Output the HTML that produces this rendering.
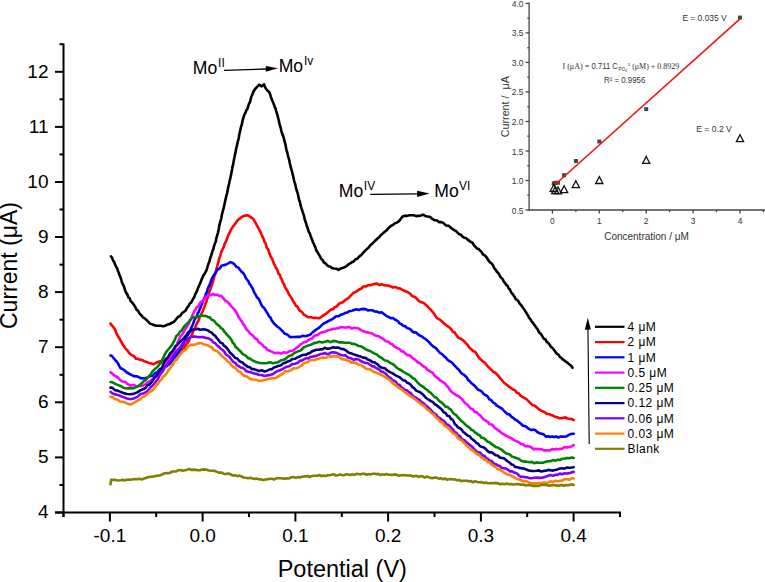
<!DOCTYPE html>
<html><head><meta charset="utf-8"><style>
html,body{margin:0;padding:0;background:#fff;}
body{width:765px;height:582px;overflow:hidden;}
svg{display:block;}
</style></head><body>
<svg width="765" height="582" viewBox="0 0 765 582">
<rect width="765" height="582" fill="#fff"/>
<g stroke="#000" stroke-width="2" fill="none" stroke-linecap="butt">
<path d="M63.5 43.4V517.0"/>
<path d="M55 512.5H621.0"/>
<path d="M55 512.5H63.5"/>
<path d="M55 457.4H63.5"/>
<path d="M55 402.3H63.5"/>
<path d="M55 347.2H63.5"/>
<path d="M55 292.1H63.5"/>
<path d="M55 237.0H63.5"/>
<path d="M55 182.0H63.5"/>
<path d="M55 126.9H63.5"/>
<path d="M55 71.8H63.5"/>
<path d="M59.5 485.0H63.5"/>
<path d="M59.5 429.9H63.5"/>
<path d="M59.5 374.8H63.5"/>
<path d="M59.5 319.7H63.5"/>
<path d="M59.5 264.6H63.5"/>
<path d="M59.5 209.5H63.5"/>
<path d="M59.5 154.4H63.5"/>
<path d="M59.5 99.3H63.5"/>
<path d="M59.5 44.2H63.5"/>
<path d="M109.9 512.5V521.5"/>
<path d="M202.6 512.5V521.5"/>
<path d="M295.4 512.5V521.5"/>
<path d="M388.1 512.5V521.5"/>
<path d="M480.9 512.5V521.5"/>
<path d="M573.6 512.5V521.5"/>
<path d="M63.5 512.5V517.0"/>
<path d="M156.2 512.5V517.0"/>
<path d="M249.0 512.5V517.0"/>
<path d="M341.8 512.5V517.0"/>
<path d="M434.5 512.5V517.0"/>
<path d="M527.2 512.5V517.0"/>
<path d="M620.0 512.5V517.0"/>
</g>
<g font-family="'Liberation Sans', sans-serif" font-size="19" fill="#000" text-anchor="end">
<text x="48.5" y="518.4">4</text>
<text x="48.5" y="463.3">5</text>
<text x="48.5" y="408.2">6</text>
<text x="48.5" y="353.1">7</text>
<text x="48.5" y="298.0">8</text>
<text x="48.5" y="242.9">9</text>
<text x="48.5" y="187.9">10</text>
<text x="48.5" y="132.8">11</text>
<text x="48.5" y="77.7">12</text>
</g>
<g font-family="'Liberation Sans', sans-serif" font-size="19" fill="#000" text-anchor="middle">
<text x="109.9" y="542.3">-0.1</text>
<text x="202.6" y="542.3">0.0</text>
<text x="295.4" y="542.3">0.1</text>
<text x="388.1" y="542.3">0.2</text>
<text x="480.9" y="542.3">0.3</text>
<text x="573.6" y="542.3">0.4</text>
</g>
<text font-family="'Liberation Sans', sans-serif" font-size="23.5" x="342.3" y="576.8" text-anchor="middle">Potential (V)</text>
<text font-family="'Liberation Sans', sans-serif" font-size="23" transform="translate(17 265.5) rotate(-90)" text-anchor="middle">Current (μA)</text>
<g fill="none" stroke-width="2.6" stroke-linejoin="round" stroke-linecap="round">
<path stroke="#000000" d="M111.0 256.3L111.6 257.0L112.2 258.1L113.1 260.6L114.1 261.8L115.2 264.7L116.2 266.8L117.2 268.5L118.0 271.1L118.7 272.4L119.4 275.0L120.1 276.5L120.9 278.5L121.6 281.0L122.3 283.5L123.1 284.5L124.0 286.7L124.8 289.4L125.6 291.8L126.5 293.2L127.5 294.8L128.5 297.6L129.6 298.1L130.7 301.2L131.9 302.2L133.1 303.8L134.4 305.6L135.5 307.5L136.7 310.0L138.0 310.7L139.2 313.0L140.5 314.6L141.8 315.7L143.0 317.4L144.7 318.4L146.5 320.0L148.2 321.6L149.9 323.5L151.5 324.1L153.9 325.0L156.2 325.8L158.4 325.8L160.7 325.7L163.1 326.3L165.3 325.8L167.5 324.5L169.6 324.1L171.5 323.0L173.8 321.8L175.8 319.6L178.0 317.0L180.1 316.0L182.2 313.0L184.4 311.5L185.8 310.2L187.3 307.4L188.7 305.8L189.8 303.5L190.9 302.7L192.0 301.0L193.0 299.0L194.2 297.2L195.3 294.1L196.4 292.3L197.2 290.3L197.9 288.4L198.7 286.3L199.4 285.0L200.4 282.8L201.4 279.8L202.5 277.7L203.4 275.1L204.3 274.4L205.3 272.5L206.3 270.7L207.0 268.6L207.8 265.6L208.6 263.5L209.4 261.6L210.1 258.3L210.8 256.9L211.5 254.4L212.1 252.3L212.7 250.4L213.3 249.6L213.9 246.6L214.5 244.8L215.1 242.9L215.8 241.5L216.4 238.1L217.0 236.2L217.4 234.5L217.9 233.1L218.3 231.0L218.8 229.0L219.2 226.0L219.7 224.2L220.1 222.2L220.6 220.8L221.2 218.8L221.7 215.5L222.2 213.5L222.7 211.6L223.2 209.6L223.7 207.8L224.2 205.9L224.7 203.3L225.2 200.7L225.7 198.9L226.1 196.8L226.6 194.9L227.1 193.3L227.6 190.5L228.1 187.9L228.6 185.8L229.1 183.7L229.6 180.6L230.0 179.8L230.4 177.6L230.9 175.7L231.3 173.6L231.8 170.9L232.2 168.8L232.6 166.2L233.1 164.8L233.6 161.6L234.0 159.4L234.5 157.3L234.9 155.1L235.3 153.4L235.8 150.7L236.2 148.6L236.6 146.9L237.1 144.9L237.5 143.4L237.9 140.9L238.3 140.1L238.8 137.7L239.2 134.9L239.6 133.0L240.1 131.2L240.5 129.3L241.0 126.7L241.5 125.6L242.0 123.7L242.5 120.9L243.0 119.2L243.9 116.0L244.8 113.8L245.6 112.3L246.5 110.0L247.4 109.0L248.3 105.9L249.2 103.3L249.9 102.4L250.7 99.3L251.4 96.5L252.4 94.6L253.3 91.8L255.1 89.0L257.3 86.7L259.3 84.7L260.5 85.6L261.7 86.4L263.0 85.1L264.1 84.3L264.9 86.8L265.9 88.5L267.3 90.5L268.9 91.7L269.9 93.6L270.9 96.8L271.9 99.7L272.6 101.2L273.3 102.9L274.0 104.8L274.7 106.8L275.5 108.3L276.0 110.6L276.6 112.3L277.1 113.9L277.7 116.0L278.3 118.6L278.9 120.9L279.5 123.8L280.1 126.2L280.6 127.5L281.2 130.3L281.8 132.5L282.5 134.6L283.1 135.9L283.7 137.9L284.3 140.2L284.8 142.2L285.4 144.3L285.9 147.1L286.4 149.6L287.0 151.7L287.5 153.4L288.0 155.8L288.6 158.2L289.1 159.3L289.6 162.3L290.2 164.9L290.7 166.8L291.3 169.0L291.8 170.8L292.3 172.5L292.9 175.5L293.4 176.9L293.9 179.7L294.5 182.1L295.0 183.4L295.5 185.5L296.1 188.4L296.6 190.2L297.1 191.4L297.7 193.4L298.2 195.5L298.8 198.7L299.3 200.6L299.9 201.7L300.5 204.9L301.1 207.2L301.6 208.7L302.2 210.3L302.8 212.6L303.5 214.2L304.1 216.2L304.8 219.8L305.4 221.4L306.1 223.3L306.8 226.0L307.5 227.4L308.2 230.2L309.0 232.2L309.8 233.4L310.5 235.6L311.3 237.7L312.1 239.7L312.9 242.1L313.8 243.8L314.7 246.2L315.6 247.8L316.5 250.9L317.5 252.0L318.5 253.9L319.8 256.2L321.1 258.7L322.5 259.8L323.8 262.3L325.2 263.2L326.9 264.9L328.5 266.2L330.2 266.5L331.9 268.0L334.1 268.5L336.4 268.7L338.6 269.9L340.8 268.4L343.1 267.8L345.3 266.9L347.0 265.7L348.6 264.2L350.3 263.3L352.0 262.2L353.7 261.4L355.4 259.3L357.1 258.9L358.7 257.1L360.2 255.7L361.7 254.8L363.1 252.8L364.4 251.4L366.5 249.4L368.5 247.6L370.6 244.9L372.7 243.2L374.9 241.0L377.0 239.0L379.1 237.3L381.1 234.9L383.1 233.3L385.3 231.3L386.8 230.2L388.5 227.9L390.3 226.4L392.5 225.2L395.0 223.2L397.2 222.4L399.0 221.2L400.5 219.2L402.3 216.7L404.5 215.8L406.8 215.9L409.2 215.2L411.5 215.3L413.8 215.2L416.1 216.1L418.4 215.9L420.7 215.7L423.0 214.6L425.3 215.9L427.5 216.5L429.8 216.7L432.1 218.8L434.4 220.2L436.7 220.2L439.0 222.1L441.3 222.1L443.6 223.2L445.3 224.9L447.0 225.7L448.7 225.8L450.4 227.4L452.1 228.7L453.8 229.8L455.6 230.8L457.3 232.3L459.0 234.2L460.8 234.5L462.5 236.6L464.2 237.7L465.9 238.1L467.5 239.5L469.3 240.9L471.1 242.1L472.5 242.7L474.0 245.5L475.5 246.8L477.0 248.7L478.5 248.8L479.7 250.3L481.5 251.8L482.9 254.3L484.6 255.3L485.9 256.5L487.3 258.5L488.8 261.0L490.3 262.7L491.8 263.7L493.0 265.3L494.2 268.2L495.5 269.5L496.7 271.6L497.9 272.5L499.1 274.2L500.3 276.8L501.5 278.0L502.7 279.1L503.9 281.9L505.1 283.0L506.3 285.0L507.5 285.6L508.7 288.6L509.9 289.3L511.1 292.4L512.3 293.6L513.5 295.2L514.7 297.1L515.9 299.3L517.1 299.9L518.3 301.2L519.5 303.4L520.7 304.6L521.9 306.1L523.1 308.0L524.4 309.7L525.6 311.7L526.8 313.7L528.0 315.5L529.2 318.0L530.4 319.1L531.6 321.3L532.8 322.6L534.0 324.6L535.2 325.9L536.4 327.9L537.6 329.2L538.8 331.9L540.0 333.3L541.2 334.3L542.4 336.3L543.8 338.7L545.3 339.2L546.7 341.9L548.2 342.9L549.6 344.7L551.0 346.9L552.5 348.0L553.9 349.8L555.4 351.8L556.8 353.8L558.2 354.4L559.6 356.6L561.0 357.8L562.5 359.1L564.0 360.2L565.8 361.6L567.7 362.9L569.6 364.6L571.3 366.0L572.5 367.6"/>
<path stroke="#ff0000" d="M110.5 323.5L111.4 325.1L112.6 326.0L114.0 327.9L115.3 330.0L116.3 333.0L117.4 335.2L118.4 337.1L119.5 338.6L120.5 340.5L121.8 342.8L123.0 345.1L124.3 346.5L125.6 348.6L127.3 350.3L129.1 353.0L130.8 354.5L132.5 355.5L134.3 356.5L135.9 358.8L137.9 358.9L140.0 359.8L142.0 359.9L144.2 361.1L146.5 362.0L148.9 362.9L151.4 363.4L153.5 364.4L155.7 363.0L157.4 362.2L160.1 361.2L162.7 360.9L166.0 358.8L167.9 357.8L170.0 357.2L172.6 355.9L175.0 355.3L178.0 353.5L179.7 352.6L181.3 351.0L182.7 349.5L184.1 348.0L185.5 345.5L186.8 343.6L188.9 341.2L189.9 338.0L190.9 336.9L192.4 333.5L193.4 330.3L194.5 329.1L195.5 326.8L196.5 324.2L197.5 322.3L198.5 320.5L199.5 317.4L200.6 315.8L201.7 313.4L202.7 311.3L203.7 308.6L204.7 306.0L205.5 303.5L206.3 301.9L207.0 299.6L207.8 297.5L208.4 295.0L209.1 292.6L209.9 290.4L210.5 289.0L211.2 286.7L211.8 285.7L212.5 283.1L213.1 281.2L213.6 279.1L214.2 277.0L214.8 274.6L215.3 272.0L216.1 270.5L216.7 268.2L217.4 265.5L218.1 263.1L218.7 260.9L219.4 257.6L220.1 256.5L220.8 253.7L221.5 251.5L222.6 249.1L223.6 247.3L224.6 244.0L225.6 242.2L226.7 239.8L227.7 236.6L228.7 234.3L229.7 232.5L230.5 230.7L231.3 229.0L233.4 226.0L235.9 222.9L237.4 220.5L239.0 219.1L242.1 216.7L245.3 215.6L248.0 215.2L251.4 217.6L252.7 218.3L254.1 220.3L255.6 222.8L257.0 225.6L258.1 227.6L259.1 229.5L260.2 231.2L261.4 234.2L262.1 235.8L262.9 237.6L263.7 239.0L264.6 242.2L265.5 243.2L266.4 246.5L267.2 248.5L268.1 249.1L268.9 251.7L269.8 254.2L270.6 256.4L271.5 257.7L272.3 259.4L273.1 261.2L274.0 264.2L274.8 265.0L275.8 267.6L276.8 268.9L277.8 271.4L278.7 274.0L279.7 274.6L280.6 277.5L281.5 278.8L282.4 281.4L283.3 283.2L284.2 284.4L285.0 287.3L285.7 288.4L286.5 289.3L287.6 291.3L288.6 293.7L289.6 295.2L290.6 296.6L291.9 298.6L293.2 301.2L294.7 303.4L296.0 306.0L297.4 306.5L298.8 309.4L300.2 311.1L302.0 311.9L303.9 314.7L305.7 315.7L308.4 317.3L311.2 317.2L313.9 317.9L316.7 318.0L319.4 318.2L322.2 316.2L324.0 314.9L325.9 313.8L327.7 312.4L329.5 310.7L331.4 309.4L333.2 309.1L335.0 306.9L336.8 306.4L338.7 304.0L340.7 302.9L342.8 302.2L345.0 300.3L346.7 299.1L348.4 298.1L350.2 296.1L351.9 294.4L353.6 292.8L355.3 292.2L357.0 291.2L358.7 289.7L361.0 288.7L363.3 286.5L365.6 286.5L367.9 285.3L370.2 285.2L372.5 284.6L374.8 283.9L377.0 283.6L379.3 285.0L381.6 284.2L383.9 285.1L386.2 285.4L388.5 285.6L390.8 286.6L393.1 287.4L395.4 286.9L397.6 288.1L399.9 288.4L402.2 289.8L404.5 290.8L406.8 291.7L408.5 292.7L410.3 293.8L412.0 296.0L413.7 296.5L415.9 297.6L418.0 300.1L420.0 301.7L421.9 302.3L423.7 303.1L425.5 304.6L427.3 306.2L429.2 308.4L431.0 310.0L432.4 311.7L433.8 313.4L435.1 315.4L436.5 317.4L438.3 318.9L440.2 319.9L442.0 321.5L443.8 323.2L445.7 324.6L447.5 326.2L449.3 327.3L451.2 329.2L453.0 331.9L454.4 332.1L455.8 334.3L457.1 336.2L458.5 337.9L460.3 338.4L462.2 339.8L464.0 341.1L465.8 343.1L467.7 345.0L469.5 347.7L471.3 349.3L473.1 351.0L475.0 351.8L476.3 353.3L477.8 356.1L479.2 358.1L480.7 359.2L482.0 360.8L483.9 361.8L485.7 363.8L487.5 366.1L489.3 367.8L491.2 369.7L493.0 371.7L494.8 372.5L496.7 374.1L498.5 376.0L500.3 378.4L502.2 380.5L504.0 382.7L505.8 384.0L507.7 385.5L509.5 387.2L511.3 388.2L513.2 389.6L515.0 390.2L516.8 392.7L518.7 393.3L520.5 395.7L522.4 396.8L524.2 397.8L526.0 398.9L528.2 400.9L530.5 403.3L532.4 404.9L534.5 405.6L536.6 407.1L538.7 409.1L540.7 410.5L542.8 411.4L544.9 412.3L546.9 414.0L549.0 414.0L551.1 415.0L553.1 415.7L555.2 416.9L557.3 417.1L559.3 418.3L561.4 418.2L563.4 417.7L565.5 417.4L567.5 418.5L569.8 418.8L572.1 419.1L573.7 420.1"/>
<path stroke="#0000ff" d="M110.5 355.5L111.7 355.8L113.5 358.0L115.3 360.1L116.6 361.5L118.0 363.4L119.3 366.1L120.5 368.1L122.5 369.0L124.1 370.0L126.9 372.5L130.3 374.4L133.7 376.1L137.2 376.4L140.6 378.1L144.0 378.5L147.5 377.6L150.0 376.2L153.0 375.5L155.0 373.2L157.0 372.5L158.8 370.2L160.5 368.8L162.3 368.3L164.0 366.5L167.0 365.9L170.3 363.2L172.0 360.8L173.7 358.6L175.4 356.6L177.2 354.4L178.3 353.1L179.5 350.1L180.6 348.5L181.8 346.2L183.0 345.2L184.1 341.9L185.5 339.1L186.8 336.6L187.8 335.1L188.9 333.6L189.8 331.4L190.8 328.7L191.8 326.7L193.1 323.9L194.3 320.3L195.2 318.3L196.2 317.7L197.2 315.4L197.9 312.7L198.7 312.1L199.5 309.8L200.5 307.5L201.2 305.8L202.0 303.7L202.8 301.4L203.6 299.7L204.5 297.7L205.3 296.6L206.0 293.4L206.9 292.3L207.7 288.8L208.5 286.9L209.3 285.5L210.1 283.5L211.1 280.6L212.1 277.9L213.1 276.6L214.2 274.5L215.5 273.4L216.9 270.5L218.3 269.1L219.7 268.5L221.5 265.7L223.4 265.2L225.2 264.9L227.8 263.6L230.5 262.1L232.5 262.9L234.5 264.3L236.5 267.1L238.3 267.5L240.0 269.8L241.7 271.9L243.1 272.9L244.4 274.8L245.8 278.0L247.2 279.8L248.3 281.1L249.4 283.7L250.5 285.0L251.6 286.9L252.7 288.5L253.8 291.5L254.9 293.7L256.0 295.2L257.1 297.6L258.2 298.1L259.3 300.2L260.4 302.4L261.5 304.9L262.6 306.7L263.7 307.5L265.1 309.5L266.5 311.9L267.9 314.0L269.2 316.6L270.4 317.3L271.5 320.0L272.7 321.6L274.0 323.4L275.6 325.1L277.5 326.7L279.3 328.0L281.0 329.6L282.9 331.5L284.7 333.8L286.5 334.1L288.3 335.4L290.2 337.2L292.0 337.0L294.8 337.0L297.5 336.7L300.2 336.9L303.0 335.7L305.8 336.2L308.5 335.3L310.3 334.7L312.2 332.7L314.0 331.3L315.8 329.8L317.7 328.7L319.5 327.4L321.3 325.6L323.2 323.9L325.0 322.9L326.8 322.0L328.7 320.9L330.5 320.0L332.3 319.1L334.2 317.9L336.0 316.2L338.8 316.2L341.5 314.4L343.4 314.0L345.2 312.8L347.0 312.7L349.4 311.2L351.9 310.7L354.0 310.1L356.4 309.3L358.7 309.9L361.0 309.2L363.3 308.9L365.6 309.1L367.9 310.4L370.2 310.2L372.5 310.3L374.8 311.5L377.0 311.6L379.3 312.6L381.6 312.3L383.9 314.0L386.2 315.8L388.5 316.9L390.8 318.2L393.1 318.1L394.8 319.5L396.5 320.3L398.2 321.5L399.9 323.8L401.6 324.3L403.3 325.9L405.1 326.1L406.8 327.9L408.5 328.4L410.3 329.2L412.0 331.1L413.7 332.4L415.9 332.4L418.0 334.4L420.0 335.7L421.9 336.4L423.7 337.9L425.5 339.0L427.3 340.6L429.2 342.3L431.0 344.4L432.8 346.2L434.7 347.3L436.5 348.8L438.3 351.0L440.2 353.2L442.0 354.1L443.8 355.9L445.7 357.4L447.5 359.8L449.4 361.1L451.2 362.0L453.0 363.6L454.6 365.6L456.2 367.2L457.5 368.7L458.7 369.5L460.0 371.2L461.6 373.4L463.6 374.6L465.5 376.2L466.9 377.7L468.2 380.3L469.6 380.9L471.0 382.8L472.8 384.2L474.7 385.8L476.5 388.0L478.3 389.8L480.2 390.5L482.0 391.8L483.8 394.2L485.7 395.1L487.5 396.4L489.3 399.3L491.2 400.2L493.0 402.4L494.8 403.4L496.7 405.7L498.5 406.6L500.3 407.6L502.2 408.8L504.0 411.0L505.8 412.5L507.7 414.2L509.5 414.4L511.3 416.7L513.1 417.8L515.0 419.5L517.0 420.5L519.1 422.2L521.2 424.0L523.3 426.0L525.3 426.1L527.4 427.8L529.4 429.1L531.5 430.1L533.5 429.6L535.6 430.3L537.6 432.3L539.7 433.2L541.8 433.7L543.8 434.4L545.9 436.6L548.0 436.2L550.0 436.9L552.1 436.5L554.2 437.1L556.2 436.4L558.3 437.5L560.3 436.6L562.2 436.6L564.5 436.8L566.8 436.2L569.5 434.5L572.0 433.8L573.7 433.7"/>
<path stroke="#ff00ff" d="M110.5 372.2L111.7 373.1L113.5 374.8L115.3 376.0L117.1 377.0L118.9 378.5L120.5 380.3L123.4 382.0L125.1 381.7L126.9 383.6L130.3 385.6L133.7 384.9L137.2 386.6L139.5 385.6L142.0 385.9L143.9 385.1L145.8 384.2L147.5 382.7L149.3 381.5L150.9 380.4L152.6 378.9L154.3 377.8L156.1 375.8L157.8 374.0L159.5 371.6L161.2 370.7L162.6 368.7L164.1 366.2L165.3 365.3L166.7 363.4L168.0 360.9L169.3 358.5L170.7 356.9L172.0 354.2L173.2 352.0L174.4 350.1L175.5 347.4L176.4 345.9L177.2 344.0L177.9 341.5L178.8 340.0L180.0 336.8L181.2 335.8L182.7 333.8L184.1 331.2L185.5 328.4L186.8 327.0L188.2 324.3L189.0 323.4L189.9 320.2L190.7 319.3L191.6 317.5L192.4 315.3L193.4 313.5L194.5 310.7L195.5 310.1L196.5 307.8L197.9 306.6L199.2 304.8L200.6 302.1L202.6 300.8L204.7 299.0L206.8 296.1L208.9 295.2L211.0 295.0L213.0 293.8L215.1 295.1L217.1 294.7L219.1 295.9L221.2 295.8L223.3 298.1L225.4 300.9L227.4 301.8L229.5 304.0L231.0 306.1L232.6 307.6L234.3 309.3L235.6 311.3L236.9 313.3L238.3 316.6L239.8 318.6L240.9 320.6L242.0 321.4L243.1 324.3L244.3 325.3L245.4 327.7L246.6 329.5L248.3 331.1L250.0 333.5L251.8 334.6L253.5 336.2L255.2 338.4L256.9 339.0L258.7 342.1L260.4 343.2L262.1 344.5L263.9 346.8L265.6 347.5L267.3 349.9L269.6 350.8L271.8 351.6L274.1 353.0L276.4 353.0L278.8 352.7L281.0 353.6L283.8 352.3L286.5 353.0L289.2 351.3L292.0 350.7L293.8 350.2L295.7 348.3L297.5 347.2L299.3 345.6L301.2 344.0L303.0 342.9L304.8 341.9L306.7 341.5L308.5 340.1L310.3 339.0L312.2 338.4L314.0 336.1L315.8 335.3L317.7 335.1L319.5 333.3L322.2 332.2L325.0 331.7L327.8 330.3L330.5 329.7L333.2 328.7L336.0 328.6L338.8 328.0L341.5 327.0L344.3 327.5L347.0 327.4L349.4 327.0L351.9 328.6L354.0 327.8L356.4 328.0L358.7 328.5L361.0 330.1L363.3 331.3L365.6 332.1L367.9 332.4L370.2 333.0L372.5 333.5L374.8 335.3L377.1 336.0L379.3 336.6L381.3 338.0L383.2 338.8L385.0 340.7L386.8 341.4L388.7 341.8L390.5 344.0L392.3 344.1L394.2 346.3L396.0 347.5L397.8 348.4L399.7 349.2L401.5 351.4L403.3 351.4L405.2 353.3L407.0 355.1L408.8 355.0L410.7 356.2L412.5 358.1L414.3 359.2L416.2 360.8L418.0 362.5L419.8 363.1L421.7 365.0L423.5 366.5L425.3 367.3L427.2 369.6L429.0 370.6L430.8 372.0L432.7 372.7L434.5 375.6L436.3 377.1L438.2 378.3L440.0 380.3L441.8 381.4L443.7 382.6L445.5 384.1L446.9 385.8L448.2 387.2L449.6 389.2L451.0 391.3L452.8 392.7L454.7 394.2L456.5 395.3L458.4 396.0L460.3 397.8L462.0 399.0L463.8 401.6L465.5 403.3L467.2 404.5L469.1 406.7L471.0 408.8L472.8 409.3L474.7 411.9L476.5 412.2L478.3 414.0L480.2 415.4L482.0 417.7L483.8 419.5L485.7 420.8L487.5 421.6L489.3 423.9L491.2 424.4L493.0 425.6L494.8 428.0L496.7 428.9L498.5 430.4L500.3 431.8L502.2 433.6L504.0 434.2L505.8 435.7L507.7 436.4L509.5 437.5L511.3 438.0L513.1 439.6L515.0 440.6L517.0 441.4L519.1 442.5L521.2 444.2L523.3 444.3L525.3 446.3L527.4 445.9L529.4 446.5L531.5 447.4L533.5 449.3L535.6 448.9L537.6 449.0L539.7 449.1L541.8 449.3L543.8 450.4L545.9 450.4L548.0 450.4L550.0 450.4L552.1 449.1L554.2 449.6L556.2 448.9L558.3 449.2L560.3 448.9L562.2 448.7L564.5 446.9L566.8 447.6L569.5 446.9L572.0 446.2L573.7 445.1"/>
<path stroke="#008000" d="M110.5 382.0L112.3 382.3L114.9 383.7L117.0 384.6L120.0 385.7L123.4 387.7L126.9 388.4L130.3 388.4L133.7 388.1L137.2 386.8L140.6 384.4L142.3 382.7L144.0 381.1L145.8 380.4L147.5 377.8L149.2 375.9L150.9 374.0L152.3 371.6L153.7 370.3L155.3 368.6L157.0 367.5L158.6 365.4L160.0 363.6L161.1 362.7L162.1 359.9L163.1 358.2L164.1 355.7L166.2 352.0L168.2 349.5L170.3 347.1L172.4 344.4L173.4 342.1L174.4 340.8L175.3 338.5L176.3 336.1L178.5 334.3L179.9 331.6L181.5 330.8L182.9 328.2L184.4 326.2L185.8 324.8L187.6 323.1L189.5 321.2L191.8 317.9L194.4 317.2L196.5 316.6L198.9 316.6L201.2 315.5L203.6 316.0L205.9 315.9L208.1 317.2L209.9 317.3L211.4 319.6L213.3 320.3L214.7 321.5L216.4 323.7L218.0 325.1L219.6 326.1L221.0 328.2L222.8 329.1L224.2 331.5L225.5 332.8L226.9 334.6L228.2 336.0L229.5 337.3L230.7 339.0L231.8 340.6L233.0 343.1L234.2 343.8L235.5 347.1L237.0 347.8L238.7 349.8L240.6 351.4L242.5 353.9L244.3 354.8L246.2 356.0L248.0 358.1L249.8 358.4L251.7 359.9L253.5 360.9L256.2 362.1L259.0 362.7L261.8 363.3L264.5 363.3L267.2 363.0L270.0 362.3L272.8 363.2L275.5 362.7L278.2 362.2L281.0 360.3L282.8 359.9L284.7 359.4L286.5 358.1L288.3 356.3L290.2 355.6L292.0 355.2L293.8 353.3L295.7 352.4L297.5 351.6L299.3 351.1L301.2 350.1L303.0 347.9L304.8 346.9L306.7 346.1L308.5 345.4L311.2 344.6L314.0 343.1L316.8 342.6L319.5 341.7L322.2 342.5L325.0 341.8L327.8 340.9L330.5 342.2L333.2 340.9L336.0 341.3L338.9 342.4L341.5 342.4L345.0 342.8L347.1 342.7L349.5 342.7L351.9 343.9L354.2 343.8L356.4 344.9L358.7 346.0L361.0 346.3L363.3 347.7L365.6 349.2L367.9 350.2L370.2 351.0L372.5 352.5L374.8 353.6L377.1 354.6L379.3 356.7L381.3 357.6L383.2 359.2L385.0 360.5L386.8 360.7L388.7 361.8L390.5 363.1L392.3 363.9L394.2 365.0L396.0 367.1L397.8 368.6L399.7 369.5L401.5 370.5L403.3 371.9L405.2 372.8L407.0 373.9L408.8 374.9L410.7 376.1L412.5 378.0L414.3 378.7L416.2 380.9L418.0 383.0L419.8 384.5L421.7 386.0L423.5 387.0L425.3 388.7L427.2 390.0L429.0 391.7L430.8 392.9L432.7 395.0L434.5 397.0L436.3 397.5L438.2 399.8L440.0 401.6L441.8 402.7L443.7 404.4L445.5 406.7L447.3 406.7L449.2 408.7L451.0 409.6L452.3 411.8L453.6 413.5L454.9 414.4L456.5 415.4L458.0 417.5L459.6 419.1L461.3 420.9L463.0 422.2L464.7 423.9L466.4 425.6L468.0 426.6L469.7 427.8L471.3 429.9L473.0 430.2L474.6 432.2L476.3 433.0L477.9 434.7L479.6 435.0L481.2 437.5L482.9 437.8L484.5 438.7L486.2 440.3L487.8 441.7L489.5 442.3L491.6 444.2L493.6 445.4L495.6 446.9L497.7 447.6L499.8 448.6L501.8 449.8L503.9 451.8L506.0 453.3L508.1 453.9L510.2 454.7L512.2 456.8L514.2 457.2L516.7 458.1L519.0 459.0L521.2 460.7L523.2 461.4L525.1 461.6L527.4 461.8L529.5 462.2L531.8 461.9L534.2 463.2L536.6 462.4L538.9 462.7L541.2 462.8L543.6 462.6L545.9 461.8L548.2 461.2L550.5 461.2L552.9 460.1L555.2 460.8L557.5 459.7L559.9 460.0L562.2 458.7L564.5 458.5L567.0 458.1L569.7 458.1L572.0 457.6L573.7 458.0"/>
<path stroke="#000080" d="M110.5 387.6L112.3 387.8L114.9 390.1L117.0 390.5L120.0 391.6L123.4 393.0L126.9 394.0L130.3 394.2L133.7 393.9L137.2 392.4L140.6 390.1L144.0 388.8L145.8 387.6L147.5 385.1L149.2 384.7L150.9 383.0L152.6 380.8L154.3 377.7L156.1 376.6L157.8 374.3L159.2 371.5L160.5 369.5L161.4 369.2L162.4 366.8L163.4 364.2L164.5 362.0L165.7 360.0L166.9 358.2L168.0 357.3L169.2 355.0L170.3 353.1L172.0 351.8L173.7 349.3L175.4 346.2L177.2 345.2L178.9 342.9L180.6 341.4L182.4 339.4L184.1 337.9L185.6 336.0L187.0 334.5L188.5 331.9L190.0 331.3L192.6 329.6L196.0 329.2L197.7 328.8L200.0 329.8L201.8 329.5L203.9 329.4L206.1 329.8L208.1 330.4L209.9 331.9L211.7 332.6L213.4 334.6L215.0 335.6L216.5 337.6L217.8 339.2L219.2 340.9L220.5 342.8L222.3 343.2L224.2 345.9L226.0 347.1L227.4 348.8L228.8 350.8L230.1 352.9L231.5 353.8L233.3 355.7L235.2 358.0L237.0 358.2L238.8 360.5L240.7 361.9L242.5 362.3L244.3 364.4L246.2 365.6L248.0 367.0L249.8 367.1L251.7 369.0L253.5 369.1L256.2 369.9L259.0 371.1L261.8 370.3L264.5 371.5L267.2 370.7L270.0 369.3L271.8 369.3L273.7 367.6L275.5 367.0L278.2 366.0L281.0 365.3L282.8 363.6L284.7 363.0L286.5 362.1L288.3 361.3L290.2 360.8L292.0 359.1L294.9 358.8L297.5 357.4L300.0 356.3L301.8 355.3L304.0 354.8L306.2 354.7L308.3 353.4L310.3 352.7L312.4 351.1L314.5 350.4L316.5 349.8L318.6 349.7L320.6 349.4L322.7 349.2L324.7 347.8L326.8 348.6L328.8 348.7L330.9 348.1L333.0 347.3L335.0 347.8L337.1 347.5L339.2 347.8L341.2 349.0L343.3 349.0L345.4 350.1L347.4 351.7L349.5 353.1L351.7 353.6L353.9 354.4L355.7 355.0L358.7 356.0L360.7 356.6L363.2 357.6L365.6 357.9L367.9 359.6L370.2 360.4L372.5 362.1L374.2 362.2L376.0 363.4L377.7 364.3L379.3 366.4L381.3 367.5L383.2 367.9L385.0 368.3L386.8 370.2L388.7 371.4L390.5 372.4L392.3 373.1L394.2 374.3L396.0 375.6L397.8 376.4L399.7 377.4L401.5 378.7L403.3 380.4L405.2 380.5L407.0 382.7L408.8 383.2L410.7 384.7L412.5 387.2L414.3 388.4L416.2 390.6L418.0 391.4L419.8 392.0L421.7 393.6L423.5 395.1L425.3 397.2L427.2 398.9L429.0 399.8L430.8 401.1L432.7 401.9L434.5 404.1L436.3 405.0L438.2 406.6L440.0 408.0L441.8 409.6L443.7 412.2L445.5 412.9L447.3 415.7L449.2 416.0L451.0 419.0L452.3 419.5L453.6 421.3L454.9 424.3L456.5 425.4L458.0 427.6L459.6 428.1L461.3 429.3L463.0 431.7L464.7 433.0L466.4 434.6L468.0 435.8L469.7 436.2L471.3 438.4L473.0 439.9L474.6 440.9L476.3 443.0L477.9 443.4L479.6 445.8L481.2 446.7L483.3 447.2L485.4 448.6L487.4 450.9L489.5 452.4L491.6 452.4L493.6 453.7L495.6 455.3L497.7 455.5L499.8 457.5L501.8 457.9L503.9 458.3L506.0 460.0L507.8 461.5L509.7 462.7L511.6 464.5L513.4 465.0L515.0 466.9L517.3 467.1L519.2 467.9L521.2 468.2L523.2 468.4L525.1 468.9L527.4 470.0L529.5 470.7L531.8 470.9L534.2 471.0L536.6 470.8L538.9 470.4L541.2 471.5L543.6 470.9L545.9 470.8L548.2 469.9L550.5 470.2L552.9 470.6L555.2 470.1L557.5 469.4L559.9 468.5L562.2 468.3L564.5 468.6L567.0 467.5L569.7 467.8L572.0 467.5L573.7 467.2"/>
<path stroke="#8000ff" d="M110.5 391.8L112.3 393.3L114.9 394.4L117.0 394.7L120.0 395.7L123.4 397.1L126.9 398.5L130.3 399.2L133.7 398.5L137.2 396.9L140.6 394.0L144.0 393.2L145.8 392.1L147.5 391.0L149.2 389.0L150.9 386.9L152.6 385.7L154.3 383.5L156.1 381.2L157.8 379.5L159.2 376.5L160.5 373.9L161.9 372.3L163.4 370.2L164.5 367.6L165.7 366.7L166.9 365.2L168.6 362.1L170.3 360.6L172.0 358.3L173.7 355.5L175.4 352.7L177.2 350.4L178.9 348.8L180.6 346.6L182.3 343.9L184.1 341.4L185.8 340.9L187.5 339.5L190.9 336.9L194.4 336.5L196.9 336.9L200.0 337.2L201.9 337.0L204.0 337.3L206.1 338.1L208.1 338.2L209.9 339.2L211.7 340.4L213.4 342.4L215.0 343.2L216.9 345.2L218.7 346.6L220.5 348.5L222.3 349.8L224.2 351.5L226.0 354.7L227.8 355.6L229.7 357.1L231.5 359.7L233.3 361.8L235.2 362.8L237.0 365.1L238.8 366.1L240.7 367.5L242.5 367.8L244.3 368.8L246.2 371.1L248.0 371.7L250.8 372.3L253.5 373.4L256.2 373.7L259.0 375.0L261.8 375.0L264.5 376.0L267.2 375.4L270.0 374.9L272.6 374.3L275.5 372.1L277.4 371.1L279.4 370.5L281.6 369.5L283.7 368.4L285.8 367.1L288.0 366.6L290.1 365.8L292.0 364.1L295.1 363.8L297.5 363.1L300.0 360.6L301.8 360.7L304.0 359.4L306.2 358.1L308.3 358.6L310.3 356.9L312.4 356.7L314.5 356.1L316.5 355.9L318.6 354.9L320.6 354.0L322.7 353.7L324.7 353.0L326.8 354.0L328.8 353.8L330.9 352.6L333.0 352.3L335.0 352.6L337.1 353.0L339.2 354.3L341.2 354.9L343.3 355.5L345.4 355.1L347.4 357.2L349.5 357.9L351.7 358.6L353.9 359.9L355.7 359.0L358.7 359.5L360.7 361.0L363.2 362.2L365.6 362.9L367.9 363.3L370.2 364.9L372.5 366.4L374.2 366.4L376.0 367.9L377.7 368.9L379.3 369.7L381.3 371.4L383.2 372.0L385.0 373.3L386.8 374.7L388.7 377.2L390.5 377.8L392.3 380.2L394.2 380.8L396.0 381.9L397.8 384.6L399.7 384.9L401.5 387.4L403.3 388.6L405.2 390.1L407.0 390.4L408.8 392.2L410.7 393.0L412.5 395.6L414.3 396.9L416.2 397.9L418.0 399.0L419.8 400.2L421.7 402.2L423.5 403.2L425.3 405.1L427.2 406.3L429.0 408.3L430.8 409.7L432.7 412.2L434.5 413.6L436.2 414.6L438.0 417.3L440.0 418.1L441.5 419.6L443.1 420.4L444.8 421.9L446.5 424.2L448.2 424.9L449.9 426.2L451.5 428.3L453.2 429.8L454.8 432.4L456.5 432.8L458.1 435.7L459.8 435.8L461.4 438.6L463.1 439.7L464.7 440.5L466.4 442.3L468.0 443.4L469.7 444.8L471.3 446.0L473.0 447.6L474.6 449.8L476.3 451.1L477.9 452.2L479.6 452.2L481.2 453.7L482.9 455.8L484.5 455.8L486.2 458.1L487.8 458.7L489.5 460.9L491.6 460.9L493.6 463.6L495.6 464.3L497.7 465.2L499.8 466.0L501.8 468.0L503.9 468.3L506.0 468.6L508.1 469.8L510.2 471.4L512.2 471.2L514.2 472.6L516.1 473.0L517.8 474.1L519.5 476.1L521.2 476.8L523.2 476.8L525.1 477.1L527.4 477.4L529.5 478.3L531.8 478.2L534.2 477.8L536.6 477.6L538.9 477.9L541.2 477.7L543.6 477.4L545.9 476.6L548.2 475.7L550.5 475.1L552.9 475.7L555.2 474.9L557.5 474.9L559.9 473.5L562.2 474.3L564.5 473.2L567.0 473.5L569.7 473.1L572.0 472.2L573.7 471.9"/>
<path stroke="#ff8000" d="M110.5 396.9L112.3 396.8L114.9 399.1L117.0 399.3L120.0 401.5L123.4 401.9L126.9 403.4L130.3 404.6L133.7 402.8L137.2 400.8L138.9 399.9L140.6 398.9L142.3 397.0L144.0 396.6L145.8 395.3L147.5 394.0L149.2 392.0L150.9 391.4L152.6 390.1L154.3 388.4L156.1 385.6L157.8 384.0L159.5 381.4L161.2 379.8L163.0 376.5L164.8 375.6L166.5 373.6L168.2 370.7L169.9 368.4L171.7 365.9L173.4 363.5L175.1 360.4L176.8 359.7L178.6 356.6L180.3 354.4L182.0 352.3L183.7 350.7L185.4 349.9L188.2 346.2L190.9 344.9L194.4 344.9L197.8 343.4L201.2 343.0L203.2 344.2L205.7 344.7L208.1 345.5L209.9 346.8L211.6 347.1L213.4 349.6L215.0 350.6L216.9 351.1L218.7 352.6L220.5 354.7L222.3 356.5L224.2 358.0L226.0 359.6L227.8 361.7L229.7 362.9L231.5 365.1L233.3 367.2L235.2 367.7L237.0 369.9L238.8 371.6L240.7 372.2L242.5 374.5L244.3 375.9L246.2 376.2L248.0 377.3L250.8 379.1L253.5 379.5L256.2 379.8L259.0 380.9L261.8 380.7L264.5 380.0L267.2 379.2L270.0 378.6L272.6 378.2L275.5 378.2L277.2 377.0L279.1 376.0L281.1 374.6L283.0 373.5L284.9 371.4L286.8 371.2L288.7 371.1L290.6 370.4L293.1 368.6L295.6 368.2L297.5 368.0L300.0 366.2L301.8 365.3L304.0 363.2L306.2 362.5L308.3 361.7L310.3 360.2L312.4 359.7L314.5 360.2L316.5 359.2L318.6 358.9L320.6 357.9L322.7 357.9L324.7 357.7L326.8 357.5L328.8 356.0L330.9 356.8L333.0 356.0L335.0 356.4L337.1 356.0L339.2 357.1L341.2 358.8L343.3 359.4L345.4 359.6L347.4 360.6L349.5 361.1L351.7 362.6L353.9 362.4L355.7 363.0L358.7 364.5L360.7 364.7L363.2 366.6L365.6 368.4L367.9 368.9L370.2 369.6L372.5 371.0L374.8 372.3L377.1 372.9L379.3 373.9L381.3 374.8L383.2 375.8L385.0 377.0L386.8 378.0L388.7 379.4L390.5 380.6L392.3 382.7L394.2 384.5L396.0 385.6L397.8 386.9L399.7 388.4L401.5 389.1L403.3 391.2L405.2 392.2L407.0 393.7L408.8 395.1L410.7 396.3L412.5 397.4L414.3 398.7L416.2 400.1L418.0 401.9L419.8 403.1L421.7 404.7L423.5 405.3L425.3 407.3L427.2 409.7L429.0 410.4L430.8 412.4L432.7 413.9L434.5 415.2L436.2 417.9L438.0 418.7L440.0 421.4L441.5 421.9L443.1 423.2L444.8 426.0L446.5 427.0L448.2 427.9L449.9 429.9L451.5 431.5L453.2 433.5L454.8 434.0L456.5 435.7L458.1 438.3L459.8 439.5L461.4 440.2L463.1 442.0L464.7 443.5L466.4 445.4L468.0 446.7L469.7 448.4L471.3 449.7L473.0 450.5L474.6 452.1L476.3 453.4L477.9 454.6L479.6 455.4L481.2 457.1L482.9 458.3L484.5 459.8L486.2 459.9L487.8 462.3L489.5 462.2L491.6 464.7L493.6 465.9L495.6 467.1L497.7 469.1L499.8 469.8L501.8 470.8L503.9 472.5L506.0 473.8L508.1 474.5L510.2 475.2L512.2 476.4L514.2 477.3L516.7 478.9L519.0 479.2L521.2 480.2L523.2 481.1L525.1 481.3L527.4 481.6L529.5 482.8L531.8 483.4L534.2 483.3L536.6 483.4L538.9 483.0L541.2 483.0L543.6 482.5L545.9 482.8L548.2 482.5L550.5 481.3L552.9 482.1L555.2 480.8L557.5 481.2L559.9 480.8L562.2 480.6L564.5 479.2L567.0 479.2L569.7 479.6L572.0 478.0L573.7 478.5"/>
<path stroke="#808000" d="M110.5 484.3L111.2 479.8L113.0 479.9L114.8 479.8L117.3 480.5L120.9 480.2L122.5 479.8L124.4 480.5L126.4 479.7L128.6 479.6L130.9 479.8L133.1 479.2L135.3 479.1L137.3 479.3L139.2 478.8L141.7 479.4L144.0 478.6L146.1 478.1L148.1 477.0L150.2 477.0L152.3 476.6L154.5 476.3L156.7 475.7L158.9 475.6L161.0 475.1L163.2 473.8L165.4 473.2L167.6 473.0L169.7 473.1L171.9 471.6L174.1 471.5L176.2 471.5L178.4 470.2L180.6 470.1L182.8 470.8L184.9 470.3L187.1 469.7L189.3 468.9L191.5 470.0L193.7 469.6L195.9 469.9L198.1 470.2L200.2 470.1L202.4 469.6L204.6 469.4L206.8 469.8L208.9 470.5L211.1 470.8L213.3 470.7L215.4 471.1L217.6 472.2L219.8 472.6L222.0 472.6L224.1 474.0L226.3 473.9L228.5 473.5L230.7 474.5L232.9 475.5L235.1 475.2L237.2 476.2L239.4 475.6L241.6 476.5L243.8 477.7L246.0 477.7L248.2 478.2L250.4 477.8L252.5 478.5L254.7 478.9L256.9 478.6L259.1 479.4L261.2 479.3L263.4 480.1L265.6 479.4L267.7 479.2L269.9 478.7L272.0 478.7L274.1 479.5L276.2 478.4L278.3 478.2L280.6 478.2L283.0 478.5L284.9 478.8L287.0 478.4L289.1 478.5L291.3 477.2L293.5 477.0L295.7 477.9L297.9 477.1L300.0 477.5L302.0 476.8L303.9 476.4L305.7 476.4L307.5 475.9L309.4 477.0L311.4 476.3L313.6 475.8L316.1 475.8L317.8 475.6L319.6 475.0L321.5 476.2L323.4 475.6L325.4 476.1L327.5 475.2L329.6 475.3L331.8 474.7L333.9 474.3L336.1 475.5L338.2 475.3L340.3 474.4L342.3 475.2L344.3 475.0L346.3 474.2L348.3 474.6L350.3 475.0L352.3 474.3L354.3 474.9L356.4 473.8L358.4 474.0L360.4 474.4L362.4 473.7L364.4 473.8L366.4 474.7L368.4 474.1L370.4 474.6L372.4 473.8L374.4 473.7L376.5 474.1L378.5 473.9L380.5 475.1L382.5 474.2L384.5 474.7L386.5 474.1L388.6 474.8L390.6 474.7L392.6 474.9L394.6 474.4L396.6 474.6L398.6 475.8L400.6 475.2L402.6 475.1L404.6 475.2L406.6 475.4L408.7 475.5L410.7 475.3L412.7 476.4L414.7 476.0L416.7 475.9L418.7 476.9L420.7 476.1L422.7 476.5L424.7 477.5L426.7 476.6L428.8 477.3L430.8 478.0L432.8 478.1L434.8 477.4L436.8 477.8L438.8 478.6L440.9 478.2L442.9 479.3L444.9 478.4L446.9 479.7L448.9 479.2L451.0 479.0L453.0 479.5L455.1 479.3L457.1 480.4L459.2 479.9L461.2 481.1L463.3 480.8L465.3 480.7L467.3 480.7L469.2 481.5L471.1 481.1L473.0 482.3L475.2 481.3L477.4 482.1L479.5 482.3L481.7 482.1L483.7 483.0L485.8 482.6L487.8 483.2L489.7 483.2L491.6 483.0L493.3 483.2L495.0 482.9L497.8 483.2L500.3 484.3L502.5 483.7L504.6 484.3L506.7 483.5L508.7 484.3L511.1 484.1L513.4 484.5L515.7 484.3L517.8 484.1L520.0 484.6L522.1 484.6L524.0 484.5L526.0 485.5L528.1 484.9L530.5 485.2L532.4 485.9L534.5 485.7L536.8 485.9L539.0 485.9L541.3 484.8L543.7 485.0L545.9 484.6L548.1 485.6L550.4 485.6L552.7 485.1L555.0 485.2L557.2 485.6L559.4 485.6L561.4 484.9L563.8 485.8L566.2 485.0L568.5 485.3L570.6 484.6L572.4 484.5L573.7 485.0"/>
</g>
<g font-family="'Liberation Sans', sans-serif" fill="#000">
<text x="192.8" y="73.8" font-size="17.6">Mo<tspan font-size="12" dx="0.8" dy="-7.0">II</tspan></text>
<text x="278.7" y="71.8" font-size="17.6">Mo<tspan font-size="12" dx="0.8" dy="-7.3">Iv</tspan></text>
<text x="338.8" y="196.7" font-size="17.6">Mo<tspan font-size="12" dx="0.6" dy="-7.1">IV</tspan></text>
<text x="434.3" y="196.8" font-size="17.6">Mo<tspan font-size="12" dx="0.3" dy="-6.8">VI</tspan></text>
</g>
<g stroke="#000" stroke-width="1.3" fill="none"><path d="M224 70.4L267 69.0"/><path d="M370.2 194.3L418 193.9"/></g>
<g fill="#000"><path d="M278.1 68.3L265.8 65.9L265.8 71.7Z"/><path d="M429.7 193.4L417.1 190.7L417.1 197Z"/></g>
<g stroke-width="2.2">
<path stroke="#000000" d="M595 326.8H624.5"/>
<path stroke="#ff0000" d="M595 342.1H624.5"/>
<path stroke="#0000ff" d="M595 357.3H624.5"/>
<path stroke="#ff00ff" d="M595 372.6H624.5"/>
<path stroke="#008000" d="M595 387.8H624.5"/>
<path stroke="#000080" d="M595 403.1H624.5"/>
<path stroke="#8000ff" d="M595 418.3H624.5"/>
<path stroke="#ff8000" d="M595 433.6H624.5"/>
<path stroke="#808000" d="M595 448.8H624.5"/>
</g>
<g font-family="'Liberation Sans', sans-serif" font-size="12" fill="#000" letter-spacing="0.45">
<text x="627.5" y="331.1">4 μM</text>
<text x="627.5" y="346.4">2 μM</text>
<text x="627.5" y="361.6">1 μM</text>
<text x="627.5" y="376.9">0.5 μM</text>
<text x="627.5" y="392.1">0.25 μM</text>
<text x="627.5" y="407.4">0.12 μM</text>
<text x="627.5" y="422.6">0.06 μM</text>
<text x="627.5" y="437.9">0.03 μM</text>
<text x="627.5" y="453.1">Blank</text>
</g>
<path d="M589.2 444L587.9 326" stroke="#000" stroke-width="1.1"/>
<path d="M587.8 317.8L584.8 329.8L590.8 329.6Z" fill="#000"/>
<g stroke="#444" stroke-width="1.3" fill="none">
<path d="M529.1 2.4V210.7"/>
<path d="M529.1 210.0H765"/>
<path d="M525.5 210.0H529.1"/>
<path d="M525.5 180.5H529.1"/>
<path d="M525.5 151.0H529.1"/>
<path d="M525.5 121.5H529.1"/>
<path d="M525.5 91.9H529.1"/>
<path d="M525.5 62.4H529.1"/>
<path d="M525.5 32.9H529.1"/>
<path d="M525.5 3.4H529.1"/>
<path d="M527.3 195.2H529.1"/>
<path d="M527.3 165.7H529.1"/>
<path d="M527.3 136.2H529.1"/>
<path d="M527.3 106.7H529.1"/>
<path d="M527.3 77.2H529.1"/>
<path d="M527.3 47.7H529.1"/>
<path d="M527.3 18.2H529.1"/>
<path d="M552.4 210.0V213.6"/>
<path d="M599.3 210.0V213.6"/>
<path d="M646.2 210.0V213.6"/>
<path d="M693.1 210.0V213.6"/>
<path d="M740.0 210.0V213.6"/>
<path d="M575.9 210.0V212.0"/>
<path d="M622.8 210.0V212.0"/>
<path d="M669.6 210.0V212.0"/>
<path d="M716.5 210.0V212.0"/>
<path d="M763.4 210.0V212.0"/>
</g>
<g font-family="'Liberation Sans', sans-serif" font-size="8.4" fill="#333" text-anchor="end">
<text x="523.5" y="213.5">0.5</text>
<text x="523.5" y="184.0">1.0</text>
<text x="523.5" y="154.5">1.5</text>
<text x="523.5" y="125.0">2.0</text>
<text x="523.5" y="95.4">2.5</text>
<text x="523.5" y="65.9">3.0</text>
<text x="523.5" y="36.4">3.5</text>
<text x="523.5" y="6.9">4.0</text>
</g>
<g font-family="'Liberation Sans', sans-serif" font-size="8.4" fill="#333" text-anchor="middle">
<text x="552.4" y="224">0</text>
<text x="599.3" y="224">1</text>
<text x="646.2" y="224">2</text>
<text x="693.1" y="224">3</text>
<text x="740.0" y="224">4</text>
</g>
<text font-family="'Liberation Sans', sans-serif" font-size="10" fill="#333" x="646.5" y="239.8" text-anchor="middle">Concentration / μM</text>
<text font-family="'Liberation Sans', sans-serif" font-size="10" fill="#333" transform="translate(508.6 106.7) rotate(-90)" text-anchor="middle" textLength="61" lengthAdjust="spacingAndGlyphs">Current /&#160; μA</text>
<g fill="#474747">
<rect x="551.8" y="181.4" width="4" height="4"/>
<rect x="553.2" y="180.8" width="4" height="4"/>
<rect x="556.0" y="180.8" width="4" height="4"/>
<rect x="562.1" y="173.2" width="4" height="4"/>
<rect x="573.9" y="159.0" width="4" height="4"/>
<rect x="597.3" y="139.5" width="4" height="4"/>
<rect x="644.2" y="107.1" width="4" height="4"/>
<rect x="738.0" y="15.6" width="4" height="4"/>
</g>
<path d="M553.8 185.8L740.0 18.9" stroke="#f01010" stroke-width="1.5"/>
<g fill="none" stroke="#111" stroke-width="1.3" stroke-linejoin="miter">
<path d="M553.8 184.4L557.4 191.3H550.2Z"/>
<path d="M555.2 186.6L558.8 193.5H551.6Z"/>
<path d="M558.0 186.9L561.6 193.8H554.4Z"/>
<path d="M564.1 185.7L567.7 192.6H560.5Z"/>
<path d="M575.9 180.7L579.5 187.6H572.2Z"/>
<path d="M599.3 176.6L602.9 183.5H595.7Z"/>
<path d="M646.2 156.5L649.8 163.4H642.6Z"/>
<path d="M740.0 134.7L743.6 141.6H736.4Z"/>
</g>
<text font-family="'Liberation Sans', sans-serif" font-size="9.2" fill="#333" x="682.4" y="21.2" textLength="44.3" lengthAdjust="spacingAndGlyphs">E = 0.035 V</text>
<text font-family="'Liberation Sans', sans-serif" font-size="9.2" fill="#333" x="696.2" y="131.5" textLength="35.6" lengthAdjust="spacingAndGlyphs">E = 0.2 V</text>
<text font-family="'Liberation Serif', serif" font-size="8.4" fill="#333" x="562.4" y="69.2" textLength="27" lengthAdjust="spacingAndGlyphs">I (μA) =</text>
<text font-family="'Liberation Sans', sans-serif" font-size="8.2" fill="#333" x="591.6" y="69.2" textLength="26.2" lengthAdjust="spacingAndGlyphs">0.711 C</text>
<text font-family="'Liberation Sans', sans-serif" font-size="4.6" fill="#333" x="618.6" y="71.2">PO<tspan font-size="3.6" dy="1">4</tspan></text>
<text font-family="'Liberation Sans', sans-serif" font-size="4" fill="#333" x="627.5" y="66">3-</text>
<text font-family="'Liberation Serif', serif" font-size="8.4" fill="#333" x="632.2" y="69.2" textLength="47" lengthAdjust="spacingAndGlyphs">(μM) + 0.8929</text>
<text font-family="'Liberation Sans', sans-serif" font-size="8.6" fill="#333" x="604" y="82.6" textLength="41.3" lengthAdjust="spacingAndGlyphs">R² = 0.9956</text>
</svg>
</body></html>
